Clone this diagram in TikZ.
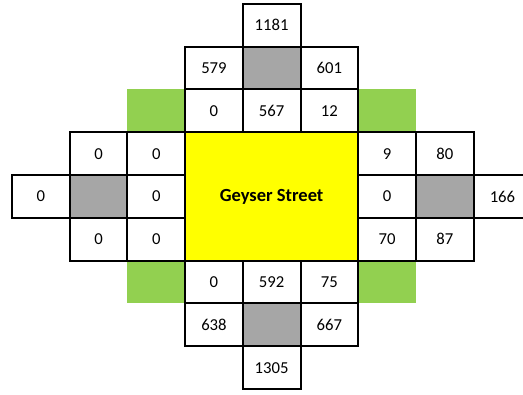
\documentclass[tikz,border=0pt]{standalone}
\usepackage{fontspec}
\setmainfont{Carlito}
\definecolor{cellgray}{HTML}{A6A6A6}
\definecolor{cellgreen}{HTML}{92D050}
\definecolor{cellyellow}{HTML}{FFFF00}
\tikzset{
  cell/.style={draw=black, line width=2pt, minimum width=57.7pt, minimum height=42.8pt,
    inner sep=0pt, font=\fontsize{16.7}{20}\selectfont},
  graycell/.style={cell, fill=cellgray},
  greencell/.style={fill=cellgreen, minimum width=57.7pt, minimum height=42.8pt, inner sep=0pt},
}
% \gridcell{name}{column}{row}{style}{text}
\newcommand\gridcell[5]{%
  \node[#4] (#1) at ({12+57.7*(#2+0.5)}, {3.9+42.8*(#3+0.5)}) {#5};}
\begin{document}
\begin{tikzpicture}[x=1pt, y=-1pt]
\useasboundingbox (0,0) rectangle (523,395);
\clip (0,0) rectangle (523,395);
% corner patches
\gridcell{gnw}{2}{2}{greencell}{}
\gridcell{gne}{6}{2}{greencell}{}
\gridcell{gsw}{2}{6}{greencell}{}
\gridcell{gse}{6}{6}{greencell}{}
% central block
\node[draw=black, line width=2pt, inner sep=0pt, fill=cellyellow,
  minimum width=173.1pt, minimum height=128.4pt,
  font=\bfseries\fontsize{18.5}{22}\selectfont] (street) at ({12+57.7*4.5}, {3.9+42.8*4.5}) {Geyser Street};
% grey cells
\gridcell{gn}{4}{1}{graycell}{}
\gridcell{gw}{1}{4}{graycell}{}
\gridcell{ge}{7}{4}{graycell}{}
\gridcell{gs}{4}{7}{graycell}{}
% north
\gridcell{n0}{4}{0}{cell}{1181}
\gridcell{n1}{3}{1}{cell}{579}
\gridcell{n2}{5}{1}{cell}{601}
\gridcell{n3}{3}{2}{cell}{0}
\gridcell{n4}{4}{2}{cell}{567}
\gridcell{n5}{5}{2}{cell}{12}
% west
\gridcell{w0}{1}{3}{cell}{0}
\gridcell{w1}{2}{3}{cell}{0}
\gridcell{w2}{0}{4}{cell}{0}
\gridcell{w3}{2}{4}{cell}{0}
\gridcell{w4}{1}{5}{cell}{0}
\gridcell{w5}{2}{5}{cell}{0}
% east
\gridcell{e0}{6}{3}{cell}{9}
\gridcell{e1}{7}{3}{cell}{80}
\gridcell{e2}{6}{4}{cell}{0}
\gridcell{e3}{8}{4}{cell}{166}
\gridcell{e4}{6}{5}{cell}{70}
\gridcell{e5}{7}{5}{cell}{87}
% south
\gridcell{s0}{3}{6}{cell}{0}
\gridcell{s1}{4}{6}{cell}{592}
\gridcell{s2}{5}{6}{cell}{75}
\gridcell{s3}{3}{7}{cell}{638}
\gridcell{s4}{5}{7}{cell}{667}
\gridcell{s5}{4}{8}{cell}{1305}
\end{tikzpicture}
\end{document}
